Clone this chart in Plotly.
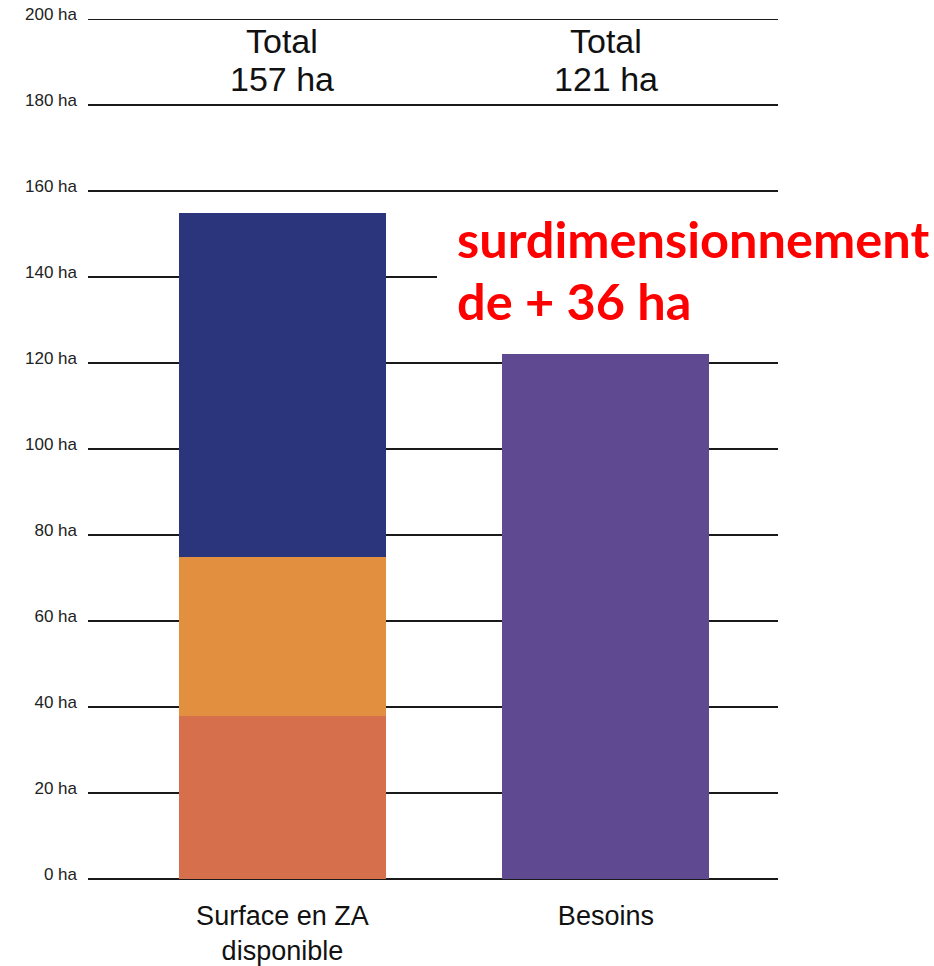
import plotly.graph_objects as go

categories = ["Surface en ZA<br>disponible", "Besoins"]
seg_bottom = [38, 0]
seg_middle = [37, 0]
seg_top = [80, 0]
besoins = [0, 122]
totals_label = ["Total", "Total"]
totals_value = ["157 ha", "121 ha"]
y_ticks = [0, 20, 40, 60, 80, 100, 120, 140, 160, 180, 200]
y_tick_labels = [f"{v} ha" for v in y_ticks]

colors = {"bottom": "#D66F4B", "middle": "#E29040", "top": "#2B357C", "besoins": "#5F4A91"}

fig = go.Figure()
bw = 0.64
fig.add_trace(go.Bar(x=categories, y=seg_bottom, marker=dict(color=colors["bottom"], line_width=0), width=bw))
fig.add_trace(go.Bar(x=categories, y=seg_middle, marker=dict(color=colors["middle"], line_width=0), width=bw))
fig.add_trace(go.Bar(x=categories, y=seg_top, marker=dict(color=colors["top"], line_width=0), width=bw))
fig.add_trace(go.Bar(x=categories, y=besoins, marker=dict(color=colors["besoins"], line_width=0), width=bw))

tfont = dict(family="Liberation Sans, Arial", size=34, color="#111")
for c, lab, val in zip(categories, totals_label, totals_value):
    fig.add_annotation(x=c, y=190, xref="x", yref="y", text=lab, showarrow=False,
                       font=tfont, yanchor="middle", yshift=21)
    fig.add_annotation(x=c, y=190, xref="x", yref="y", text=val, showarrow=False,
                       font=tfont, yanchor="middle", yshift=-17)

# top gridline (200 ha)
fig.add_shape(type="line", xref="paper", yref="y", x0=0, x1=1, y0=200, y1=200,
              line=dict(color="#1a1a1a", width=2), layer="below")

# white mask behind the red annotation
fig.add_shape(type="rect", xref="paper", yref="paper", x0=0.5058, x1=1.3, y0=0.63, y1=0.78,
              fillcolor="white", line_width=0, layer="above")

rfont = dict(family="Lato", size=50.5, color="#FF0000")
fig.add_annotation(xref="paper", yref="paper", x=0.5325, y=(879 - 238) / 860, xanchor="left", yanchor="middle",
                   showarrow=False, text="<b>surdimensionnement</b>", font=rfont)
fig.add_annotation(xref="paper", yref="paper", x=0.5325, y=(879 - 301) / 860, xanchor="left", yanchor="middle",
                   showarrow=False, text="<b>de + 36 ha</b>", font=rfont)

fig.update_layout(
    width=934, height=966,
    margin=dict(l=88, r=156, t=19, b=87, autoexpand=False),
    barmode="stack", showlegend=False,
    plot_bgcolor="white", paper_bgcolor="white",
)
fig.update_xaxes(range=[-0.601, 1.532], showgrid=False, showline=False, ticks="",
                 ticklabelstandoff=18, automargin=False,
                 tickfont=dict(family="Liberation Sans, Arial", size=27, color="#111"))
fig.update_yaxes(range=[0, 200], tickvals=y_ticks, ticktext=y_tick_labels,
                 showgrid=True, gridcolor="#1a1a1a", gridwidth=2,
                 zeroline=True, zerolinecolor="#1a1a1a", zerolinewidth=2,
                 showline=False, ticks="", ticklabelstandoff=10, ticklabelshift=-5,
                 ticklabeloverflow="allow", automargin=False,
                 tickfont=dict(family="Liberation Sans, Arial", size=17, color="#222"))

fig.write_html("out.html", config={"displayModeBar": False},
               post_script="document.body.style.margin='0';")
